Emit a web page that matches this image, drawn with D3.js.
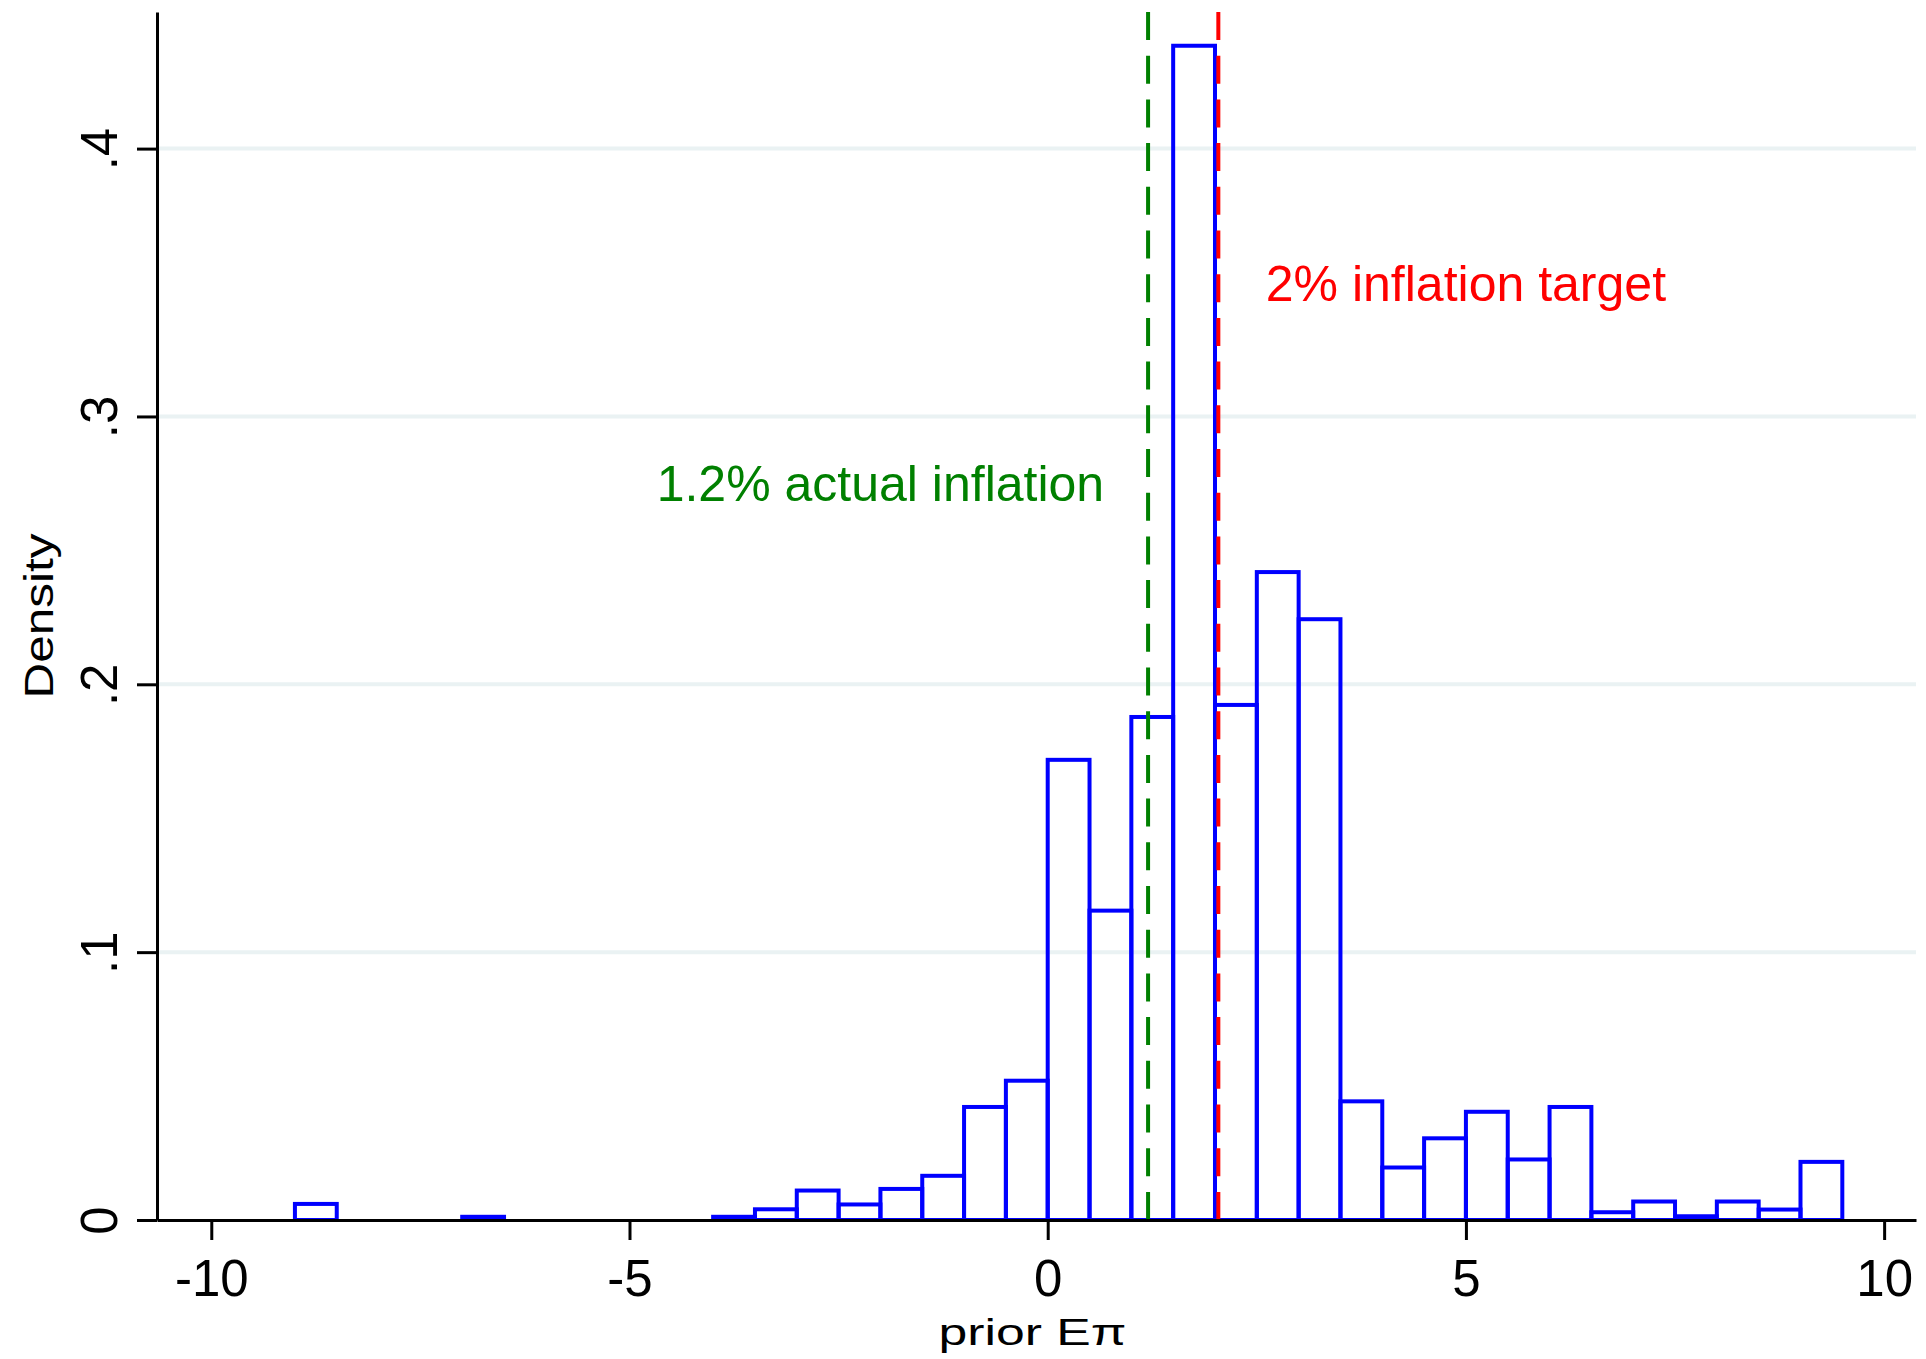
<!DOCTYPE html>
<html>
<head>
<meta charset="utf-8">
<script src="https://cdn.jsdelivr.net/npm/d3@7"></script>
<style>
    body { margin: 0; background: #ffffff; }
    svg { display: block; font-family: "Liberation Sans", Arial, sans-serif; }
</style>
</head>
<body>
<div id="chart"></div>
<script>
// histogram bins (left edge, width 0.5) and density
const binWidth = 0.5;
const binLeft = [-9, -8.5, -8, -7.5, -7, -6.5, -6, -5.5, -5, -4.5, -4, -3.5, -3, -2.5, -2, -1.5, -1, -0.5,
    0, 0.5, 1, 1.5, 2, 2.5, 3, 3.5, 4, 4.5, 5, 5.5, 6, 6.5, 7, 7.5, 8, 8.5, 9];
const density = [0.006, 0, 0, 0, 0.0012, 0, 0, 0, 0, 0, 0.0012, 0.004, 0.011, 0.0058, 0.0116, 0.0165, 0.0422, 0.052,
    0.1718, 0.1155, 0.1878, 0.4384, 0.1923, 0.2419, 0.2243, 0.0443, 0.0196, 0.0305, 0.0404, 0.0226,
    0.0422, 0.0029, 0.0069, 0.0014, 0.0069, 0.0039, 0.0217];

const xTicks = [-10, -5, 0, 5, 10];
const yTicks = [0, 0.1, 0.2, 0.3, 0.4];

// vertical reference lines and their labels
const lineValues = [1.2, 2.04];
const lineColors = ["#008000", "#ff0000"];
const labelText = ["1.2% actual inflation", "2% inflation target"];
const labelX = [-2, 5];
const labelY = [0.275, 0.35];

const xTitle = "prior E\u03c0";
const yTitle = "Density";

let draw = function() {
    var width = 1926,
        height = 1359;

    var svg = d3.select("#chart")
        .append("svg")
        .attr("width", width)
        .attr("height", height);

    var x = d3.scaleLinear()
        .domain([-10.649, 10.381])
        .range([157, 1916]);

    var y = d3.scaleLinear()
        .domain([0, 0.451])
        .range([1220, 12]);

    // grid lines
    svg.append("g")
        .selectAll("line")
        .data(yTicks.filter(function(d) { return d > 0; }))
        .enter()
        .append("line")
        .attr("x1", x.range()[0])
        .attr("x2", x.range()[1])
        .attr("y1", function(d) { return y(d); })
        .attr("y2", function(d) { return y(d); })
        .attr("stroke", "#eaf2f3")
        .attr("stroke-width", 4);

    var bins = binLeft.map(function(d, i) {
        return { left: d, value: density[i] };
    }).filter(function(d) { return d.value > 0; });

    // bars, outline only
    svg.append("g")
        .selectAll("rect")
        .data(bins)
        .enter()
        .append("rect")
        .attr("x", function(d) { return x(d.left); })
        .attr("width", function(d) { return x(d.left + binWidth) - x(d.left); })
        .attr("y", function(d) { return y(d.value); })
        .attr("height", function(d) { return y(0) - y(d.value); })
        .attr("fill", "none")
        .attr("stroke", "#0000ff")
        .attr("stroke-width", 4);

    // dashed reference lines
    svg.append("g")
        .selectAll("line")
        .data(lineValues)
        .enter()
        .append("line")
        .attr("x1", function(d) { return x(d); })
        .attr("x2", function(d) { return x(d); })
        .attr("y1", y.range()[1])
        .attr("y2", y(0))
        .attr("stroke", function(d, i) { return lineColors[i]; })
        .attr("stroke-width", 4)
        .attr("stroke-dasharray", "28,15.7");

    svg.append("g")
        .selectAll("text")
        .data(labelText)
        .enter()
        .append("text")
        .attr("x", function(d, i) { return x(labelX[i]); })
        .attr("y", function(d, i) { return y(labelY[i]); })
        .attr("dy", "0.36em")
        .attr("text-anchor", "middle")
        .attr("font-size", 50)
        .attr("fill", function(d, i) { return lineColors[i]; })
        .text(function(d) { return d; });

    // x axis
    var gx = svg.append("g")
        .attr("transform", "translate(0," + y(0) + ")")
        .call(d3.axisBottom(x)
            .tickValues(xTicks)
            .tickSize(20)
            .tickSizeOuter(0)
            .tickPadding(20)
            .tickFormat(function(d) { return String(d); }));
    gx.select(".domain").attr("stroke", "#000").attr("stroke-width", 3);
    gx.selectAll(".tick line").attr("stroke", "#000").attr("stroke-width", 3);
    gx.selectAll(".tick text")
        .attr("font-size", 51)
        .attr("font-family", "Liberation Sans, Arial, sans-serif")
        .attr("fill", "#000");

    // y axis, labels turned sideways
    var gy = svg.append("g")
        .attr("transform", "translate(" + x.range()[0] + ",0)")
        .call(d3.axisLeft(y)
            .tickValues(yTicks)
            .tickSize(20)
            .tickSizeOuter(0)
            .tickFormat(function(d) {
                return d === 0 ? "0" : d3.format(".1f")(d).replace(/^0/, "");
            }));
    gy.select(".domain").attr("stroke", "#000").attr("stroke-width", 3);
    gy.selectAll(".tick line").attr("stroke", "#000").attr("stroke-width", 3);
    gy.selectAll(".tick text")
        .attr("transform", "rotate(-90)")
        .attr("x", 0)
        .attr("y", -40)
        .attr("dy", 0)
        .attr("text-anchor", "middle")
        .attr("font-size", 51)
        .attr("font-family", "Liberation Sans, Arial, sans-serif")
        .attr("fill", "#000");

    // axis titles, glyphs drawn wide like the original
    svg.append("text")
        .attr("x", (x.range()[0] + x.range()[1]) / 2 - 4)
        .attr("y", 1345)
        .attr("text-anchor", "middle")
        .attr("font-size", 37)
        .attr("textLength", 188)
        .attr("lengthAdjust", "spacingAndGlyphs")
        .text(xTitle);

    svg.append("text")
        .attr("transform", "translate(53," + (y.range()[0] + y.range()[1]) / 2 + ") rotate(-90)")
        .attr("text-anchor", "middle")
        .attr("font-size", 40)
        .attr("textLength", 165)
        .attr("lengthAdjust", "spacingAndGlyphs")
        .text(yTitle);
}

draw();
</script>
</body>
</html>
